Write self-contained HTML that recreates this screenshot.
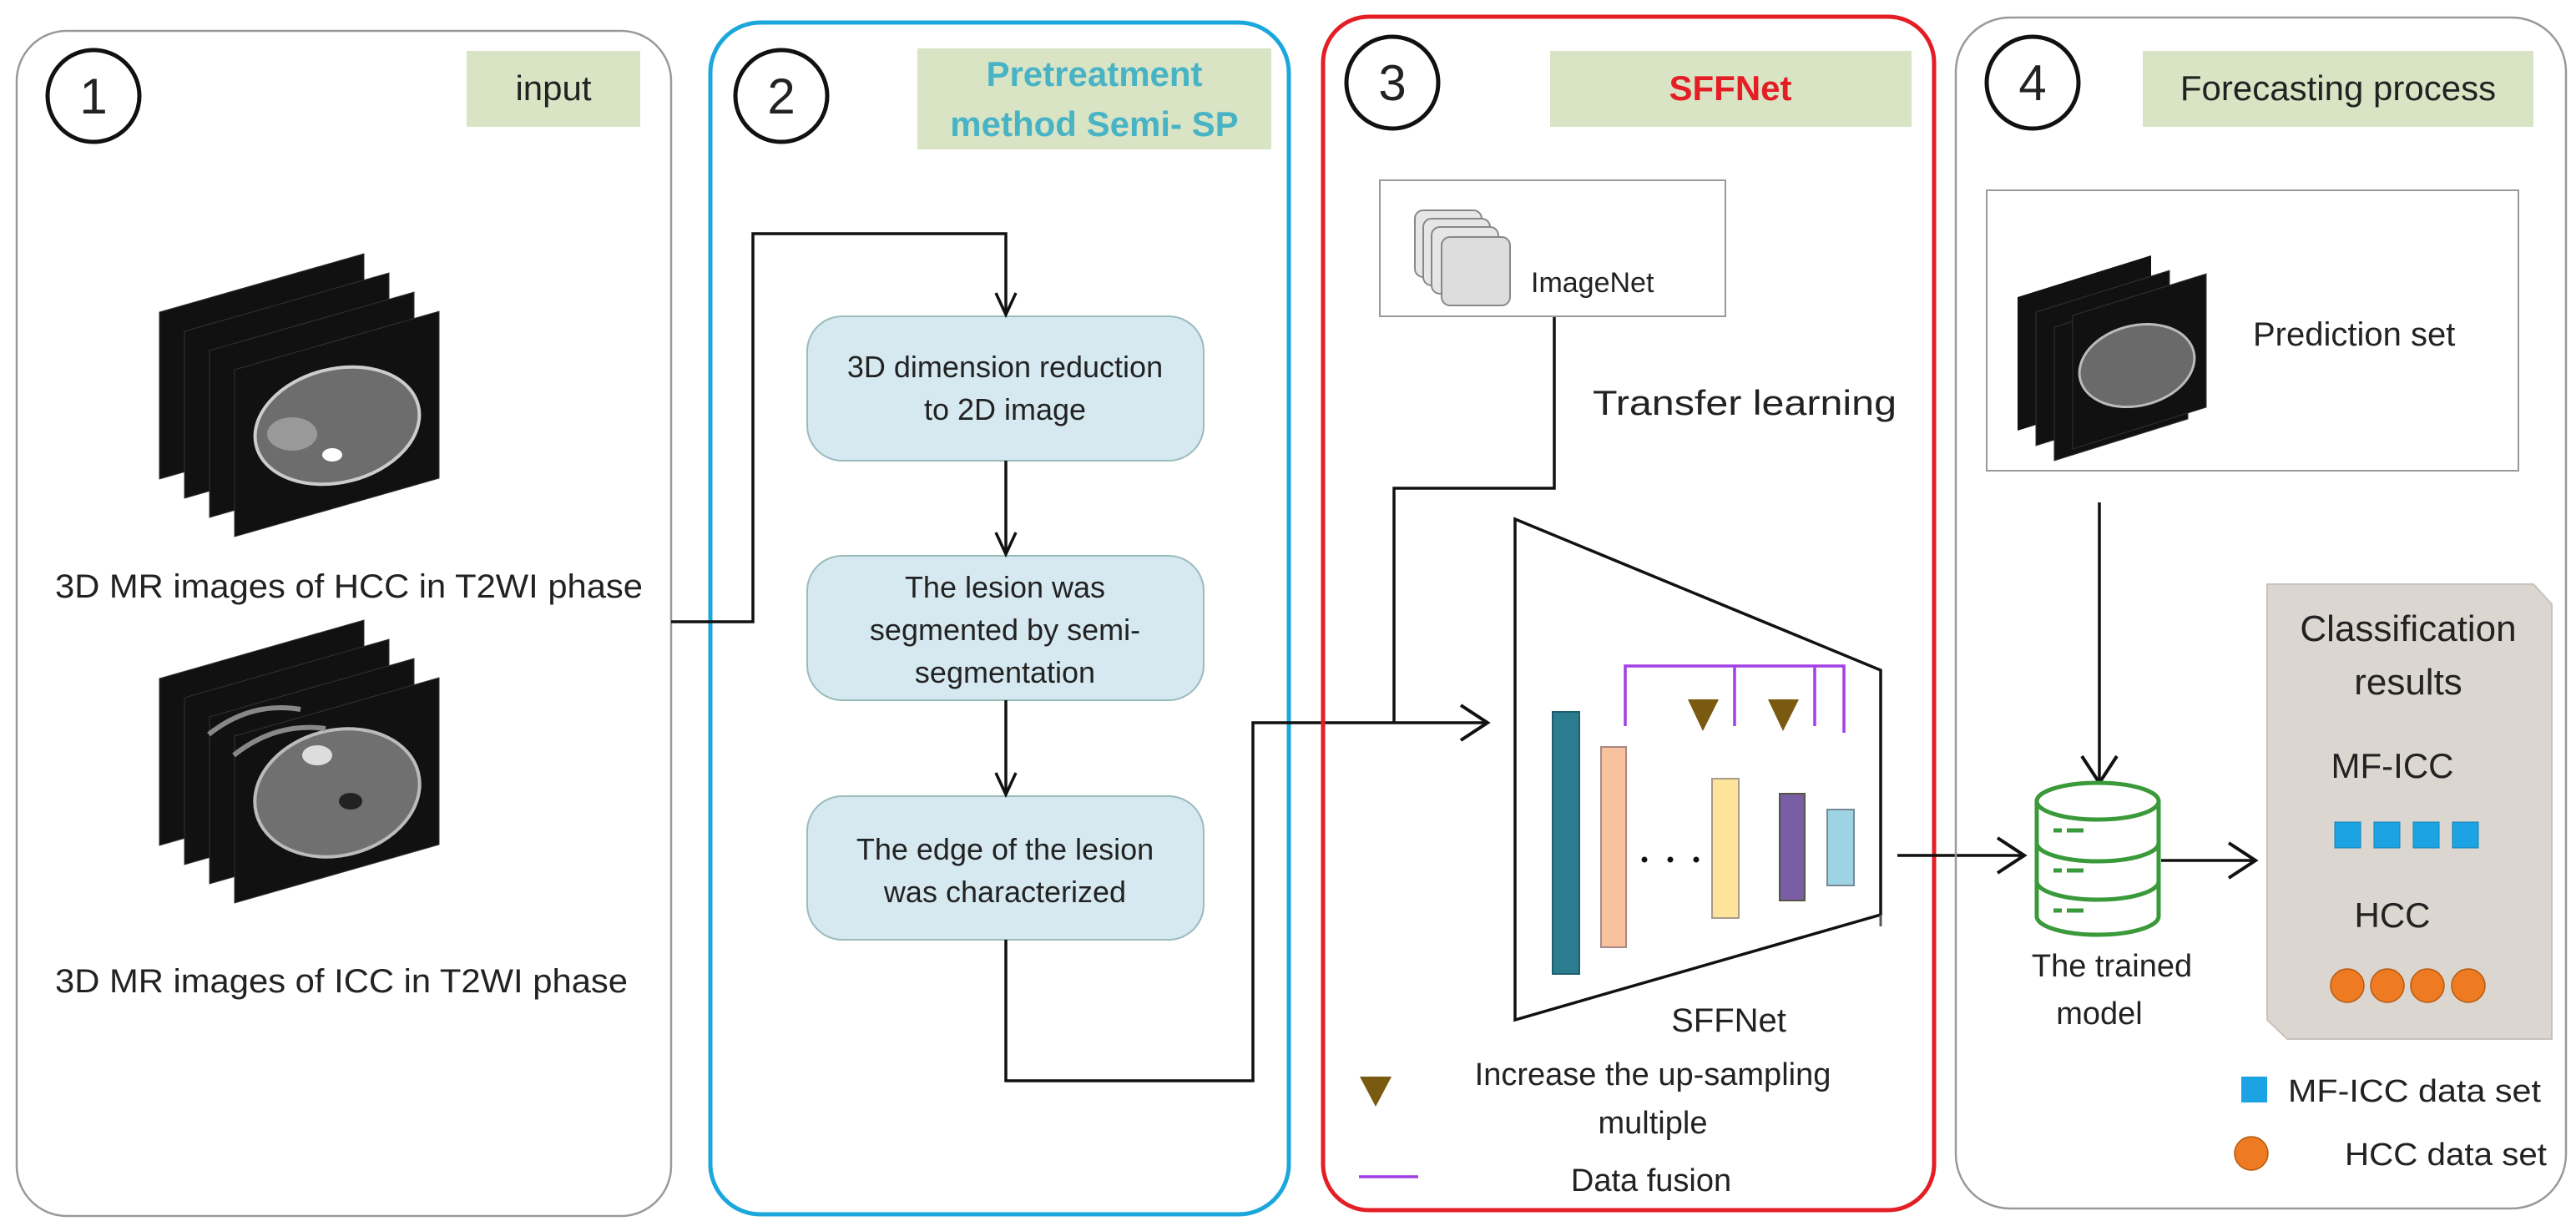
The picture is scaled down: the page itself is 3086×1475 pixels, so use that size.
<!DOCTYPE html>
<html><head><meta charset="utf-8"><style>
html,body{margin:0;padding:0;background:#fff}
svg{display:block}
text{font-family:"Liberation Sans",sans-serif;fill:#222}
</style></head><body>
<svg width="3086" height="1475" viewBox="0 0 3086 1475" xmlns="http://www.w3.org/2000/svg">
<defs>
<marker id="ah" markerWidth="34" markerHeight="30" refX="30" refY="15" orient="auto" markerUnits="userSpaceOnUse" viewBox="0 0 34 30">
<path d="M4,3 L30,15 L4,27" fill="none" stroke="#111" stroke-width="3.5"/>
</marker>
<marker id="ahb" markerWidth="40" markerHeight="50" refX="36" refY="25" orient="auto" markerUnits="userSpaceOnUse" viewBox="0 0 40 50">
<path d="M4,4 L36,25 L4,46" fill="none" stroke="#111" stroke-width="4"/>
</marker>
<g id="slice">
<polygon points="0,0 245,-70 245,130 0,200" fill="#111" stroke="#333" stroke-width="1"/>
</g>
</defs>

<!-- Panel 1 -->
<rect x="20" y="37" width="784" height="1420" rx="60" fill="#fff" stroke="#999" stroke-width="2.5"/>
<circle cx="112" cy="115" r="55" fill="none" stroke="#111" stroke-width="5"/>
<text x="112" y="136" font-size="60" text-anchor="middle">1</text>
<rect x="559" y="61" width="208" height="91" fill="#d9e4c4"/>
<text x="663" y="120" font-size="42" text-anchor="middle">input</text>

<g>
<use href="#slice" x="191" y="374"/>
<use href="#slice" x="221" y="397"/>
<use href="#slice" x="251" y="420"/>
<use href="#slice" x="281" y="443"/>
<ellipse cx="404" cy="510" rx="100" ry="68" transform="rotate(-14 404 510)" fill="#6d6d6d" stroke="#ccc" stroke-width="4"/>
<ellipse cx="398" cy="545" rx="12" ry="8" fill="#fff"/>
<ellipse cx="350" cy="520" rx="30" ry="20" fill="#999"/>
</g>
<text x="66" y="716" font-size="40" textLength="704" lengthAdjust="spacingAndGlyphs">3D MR images of HCC in T2WI phase</text>

<g>
<use href="#slice" x="191" y="813"/>
<use href="#slice" x="221" y="836"/>
<use href="#slice" x="251" y="859"/>
<use href="#slice" x="281" y="882"/>
<ellipse cx="404" cy="950" rx="100" ry="75" transform="rotate(-14 404 950)" fill="#707070" stroke="#bbb" stroke-width="4"/>
<ellipse cx="380" cy="905" rx="18" ry="12" fill="#ddd"/>
<ellipse cx="420" cy="960" rx="14" ry="10" fill="#222"/>
<path d="M250,880 Q300,840 360,850" stroke="#888" stroke-width="6" fill="none"/>
<path d="M280,905 Q330,865 390,873" stroke="#888" stroke-width="6" fill="none"/>
</g>
<text x="66" y="1189" font-size="40" textLength="686" lengthAdjust="spacingAndGlyphs">3D MR images of ICC in T2WI phase</text>

<!-- Panel 2 -->
<rect x="851" y="27" width="693" height="1428" rx="60" fill="none" stroke="#1ba7dc" stroke-width="5"/>
<circle cx="936" cy="115" r="55" fill="none" stroke="#111" stroke-width="5"/>
<text x="936" y="136" font-size="60" text-anchor="middle">2</text>
<rect x="1099" y="58" width="424" height="121" fill="#d9e4c4"/>
<text x="1311" y="103" font-size="42" font-weight="bold" text-anchor="middle" style="fill:#49b3c6">Pretreatment</text>
<text x="1311" y="163" font-size="42" font-weight="bold" text-anchor="middle" style="fill:#49b3c6">method Semi- SP</text>

<rect x="967" y="379" width="475" height="173" rx="42" fill="#d6e9f1" stroke="#9bb" stroke-width="2"/>
<text x="1204" y="452" font-size="36" text-anchor="middle">3D dimension reduction</text>
<text x="1204" y="503" font-size="36" text-anchor="middle">to 2D image</text>
<rect x="967" y="666" width="475" height="173" rx="42" fill="#d6e9f1" stroke="#9bb" stroke-width="2"/>
<text x="1204" y="716" font-size="36" text-anchor="middle">The lesion was</text>
<text x="1204" y="767" font-size="36" text-anchor="middle">segmented by semi-</text>
<text x="1204" y="818" font-size="36" text-anchor="middle">segmentation</text>
<rect x="967" y="954" width="475" height="172" rx="42" fill="#d6e9f1" stroke="#9bb" stroke-width="2"/>
<text x="1204" y="1030" font-size="36" text-anchor="middle">The edge of the lesion</text>
<text x="1204" y="1081" font-size="36" text-anchor="middle">was characterized</text>

<g fill="none" stroke="#111" stroke-width="3.5">
<polyline points="804,745 902,745 902,280 1205,280 1205,377" marker-end="url(#ah)"/>
<line x1="1205" y1="552" x2="1205" y2="664" marker-end="url(#ah)"/>
<line x1="1205" y1="839" x2="1205" y2="952" marker-end="url(#ah)"/>
<polyline points="1205,1126 1205,1295 1501,1295 1501,866 1782,866" marker-end="url(#ahb)"/>
<polyline points="1862,379 1862,585 1670,585 1670,866"/>
</g>

<!-- Panel 3 -->
<rect x="1585" y="20" width="732" height="1430" rx="55" fill="none" stroke="#e31e24" stroke-width="5"/>
<circle cx="1668" cy="99" r="55" fill="none" stroke="#111" stroke-width="5"/>
<text x="1668" y="120" font-size="60" text-anchor="middle">3</text>
<rect x="1857" y="61" width="433" height="91" fill="#d9e4c4"/>
<text x="2073" y="120" font-size="42" font-weight="bold" text-anchor="middle" style="fill:#e31e24">SFFNet</text>

<rect x="1653" y="216" width="414" height="163" fill="#fff" stroke="#999" stroke-width="2"/>
<g stroke="#888" stroke-width="2" fill="#e6e6e6">
<rect x="1695" y="252" width="80" height="80" rx="10"/>
<rect x="1705" y="262" width="80" height="80" rx="10"/>
<rect x="1715" y="272" width="80" height="80" rx="10"/>
<rect x="1727" y="284" width="82" height="82" rx="10" fill="#ddd"/>
</g>
<text x="1834" y="350" font-size="34">ImageNet</text>
<text x="1908" y="497" font-size="42" textLength="364" lengthAdjust="spacingAndGlyphs">Transfer learning</text>

<polygon points="1815,622 2253,803 2253,1096 1815,1222" fill="#fff" stroke="#111" stroke-width="3.5"/>
<line x1="2253" y1="1096" x2="2253" y2="1110" stroke="#555" stroke-width="3"/>
<rect x="1860" y="853" width="32" height="314" fill="#2b7c8e" stroke="#1d5e6c" stroke-width="2"/>
<rect x="1918" y="895" width="30" height="240" fill="#f8c29e" stroke="#a88" stroke-width="2"/>
<circle cx="1970" cy="1030" r="3.5" fill="#111"/><circle cx="2001" cy="1030" r="3.5" fill="#111"/><circle cx="2032" cy="1030" r="3.5" fill="#111"/>
<rect x="2051" y="933" width="32" height="167" fill="#fde49a" stroke="#a98" stroke-width="2"/>
<rect x="2132" y="951" width="30" height="128" fill="#7a5ea5" stroke="#554" stroke-width="2"/>
<rect x="2189" y="970" width="32" height="91" fill="#9dd3e2" stroke="#789" stroke-width="2"/>
<g stroke="#a33fe6" stroke-width="3.5" fill="none">
<polyline points="1947,870 1947,798 2209,798 2209,878"/>
<line x1="2078" y1="798" x2="2078" y2="870"/>
<line x1="2174" y1="798" x2="2174" y2="870"/>
</g>
<polygon points="2022,838 2059,838 2040,876" fill="#7a5a10"/>
<polygon points="2118,838 2155,838 2136,876" fill="#7a5a10"/>
<text x="2071" y="1236" font-size="40" text-anchor="middle">SFFNet</text>
<polygon points="1629,1290 1667,1290 1648,1326" fill="#7a5a10"/>
<text x="1980" y="1300" font-size="38" text-anchor="middle">Increase the up-sampling</text>
<text x="1980" y="1358" font-size="38" text-anchor="middle">multiple</text>
<line x1="1628" y1="1410" x2="1699" y2="1410" stroke="#a33fe6" stroke-width="3.5"/>
<text x="1978" y="1427" font-size="38" text-anchor="middle">Data fusion</text>

<line x1="2273" y1="1025" x2="2425" y2="1025" stroke="#111" stroke-width="3.5" marker-end="url(#ahb)"/>

<!-- Panel 4 -->
<rect x="2343" y="21" width="731" height="1427" rx="65" fill="none" stroke="#999" stroke-width="2.5"/>
<circle cx="2435" cy="99" r="55" fill="none" stroke="#111" stroke-width="5"/>
<text x="2435" y="120" font-size="60" text-anchor="middle">4</text>
<rect x="2567" y="61" width="468" height="91" fill="#d9e4c4"/>
<text x="2801" y="120" font-size="42" text-anchor="middle">Forecasting process</text>

<rect x="2380" y="228" width="637" height="336" fill="#fff" stroke="#999" stroke-width="2"/>
<g>
<polygon points="2417,356 2577,306 2577,466 2417,516" fill="#111"/>
<polygon points="2439,374 2599,324 2599,484 2439,534" fill="#111" stroke="#333"/>
<polygon points="2461,392 2621,342 2621,502 2461,552" fill="#111" stroke="#333"/>
<polygon points="2483,378 2643,328 2643,488 2483,538" fill="#111" stroke="#333"/>
<ellipse cx="2560" cy="438" rx="70" ry="48" transform="rotate(-14 2560 438)" fill="#6a6a6a" stroke="#bbb" stroke-width="3"/>
</g>
<text x="2699" y="414" font-size="40">Prediction set</text>

<line x1="2515" y1="602" x2="2515" y2="938" stroke="#111" stroke-width="3.5" marker-end="url(#ahb)"/>

<g fill="#fff" stroke="#3a9a3a" stroke-width="5">
<path d="M2440,960 L2440,1098 A73,22 0 0 0 2586,1098 L2586,960"/>
<ellipse cx="2513" cy="960" rx="73" ry="22"/>
<path d="M2440,1010 A73,22 0 0 0 2586,1010"/>
<path d="M2440,1056 A73,22 0 0 0 2586,1056"/>
<line x1="2460" y1="995" x2="2470" y2="995"/><line x1="2476" y1="995" x2="2496" y2="995"/>
<line x1="2460" y1="1043" x2="2470" y2="1043"/><line x1="2476" y1="1043" x2="2496" y2="1043"/>
<line x1="2460" y1="1091" x2="2470" y2="1091"/><line x1="2476" y1="1091" x2="2496" y2="1091"/>
</g>
<text x="2530" y="1170" font-size="38" text-anchor="middle">The trained</text>
<text x="2515" y="1227" font-size="38" text-anchor="middle">model</text>

<line x1="2589" y1="1031" x2="2702" y2="1031" stroke="#111" stroke-width="3.5" marker-end="url(#ahb)"/>

<polygon points="2716,700 3035,700 3057,724 3057,1245 2740,1245 2716,1222" fill="#dcd6d1" stroke="#c8c2bd" stroke-width="2"/>
<text x="2885" y="768" font-size="44" text-anchor="middle">Classification</text>
<text x="2885" y="832" font-size="44" text-anchor="middle">results</text>
<text x="2866" y="932" font-size="42" text-anchor="middle">MF-ICC</text>
<g fill="#1ca3e3" stroke="#1780b0" stroke-width="1">
<rect x="2797" y="985" width="31" height="31"/><rect x="2844" y="985" width="31" height="31"/>
<rect x="2891" y="985" width="31" height="31"/><rect x="2938" y="985" width="31" height="31"/>
</g>
<text x="2866" y="1111" font-size="42" text-anchor="middle">HCC</text>
<g fill="#ee7b22" stroke="#b55a10" stroke-width="1.5">
<circle cx="2812" cy="1181" r="20"/><circle cx="2860" cy="1181" r="20"/>
<circle cx="2908" cy="1181" r="20"/><circle cx="2957" cy="1181" r="20"/>
</g>
<rect x="2685" y="1290" width="31" height="31" fill="#1ca3e3"/>
<text x="2741" y="1320" font-size="38" textLength="303" lengthAdjust="spacingAndGlyphs">MF-ICC data set</text>
<circle cx="2697" cy="1382" r="20" fill="#ee7b22" stroke="#b55a10" stroke-width="1.5"/>
<text x="2809" y="1396" font-size="38" textLength="242" lengthAdjust="spacingAndGlyphs">HCC data set</text>
</svg>
</body></html>
